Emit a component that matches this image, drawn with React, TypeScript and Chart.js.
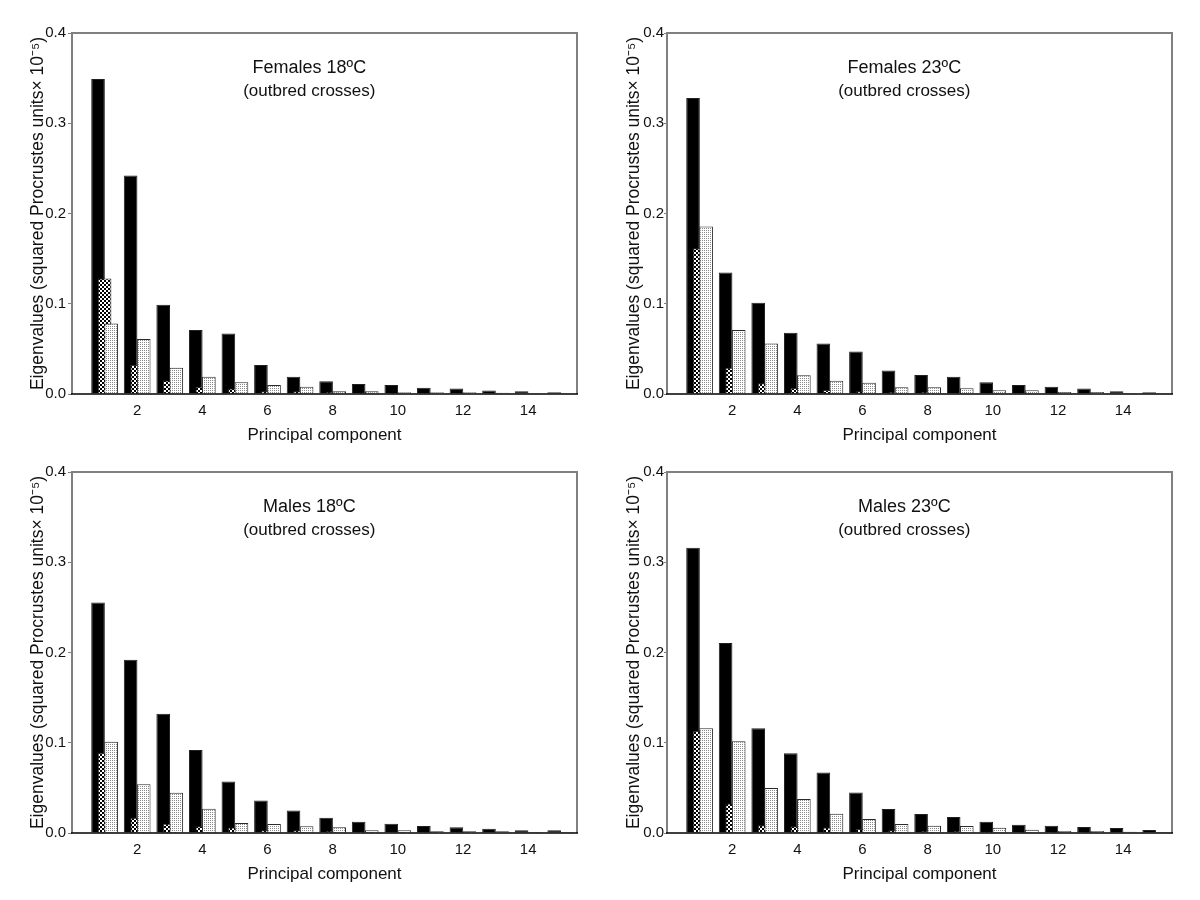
import React, { useEffect, useRef } from 'react';
import { Chart, registerables } from 'chart.js';

Chart.register(...registerables);

// ---------- data ----------
const components = [1, 2, 3, 4, 5, 6, 7, 8, 9, 10, 11, 12, 13, 14, 15];
const xTickValues = [2, 4, 6, 8, 10, 12, 14];
const xTickLabels = ['2', '4', '6', '8', '10', '12', '14'];
const yTickValues = [0, 0.1, 0.2, 0.3, 0.4];
const yTickLabels = ['0.0', '0.1', '0.2', '0.3', '0.4'];

const panelTitles = ['Females 18ºC', 'Females 23ºC', 'Males 18ºC', 'Males 23ºC'];
const panelSubtitle = '(outbred crosses)';
const xAxisTitle = 'Principal component';
const yAxisTitle = 'Eigenvalues (squared Procrustes units× 10⁻⁵)';

// Females 18ºC
const f18Solid = [0.349, 0.242, 0.099, 0.071, 0.067, 0.032, 0.019, 0.014, 0.011, 0.010, 0.007, 0.006, 0.004, 0.003, 0.002];
const f18Checked = [0.128, 0.032, 0.015, 0.008, 0.006, 0.003, 0.003, 0.002, 0.0015, 0.001, 0.001, 0.001, 0.001, 0.0005, 0.0005];
const f18Dotted = [0.078, 0.061, 0.029, 0.019, 0.013, 0.010, 0.008, 0.003, 0.003, 0.002, 0.002, 0.002, 0.0015, 0.001, 0.001];

// Females 23ºC
const f23Solid = [0.328, 0.1345, 0.101, 0.068, 0.056, 0.047, 0.026, 0.021, 0.019, 0.013, 0.010, 0.008, 0.006, 0.003, 0.002];
const f23Checked = [0.1615, 0.029, 0.012, 0.0067, 0.0044, 0.003, 0.002, 0.002, 0.0015, 0.001, 0.001, 0.001, 0.0005, 0.0005, 0.0005];
const f23Dotted = [0.1855, 0.071, 0.056, 0.0207, 0.0148, 0.0125, 0.0074, 0.0074, 0.0063, 0.0041, 0.0041, 0.0022, 0.0022, 0.0011, 0.0011];

// Males 18ºC
const m18Solid = [0.2555, 0.192, 0.132, 0.092, 0.057, 0.036, 0.025, 0.017, 0.0125, 0.0103, 0.0077, 0.0063, 0.0048, 0.003, 0.003];
const m18Checked = [0.089, 0.017, 0.0103, 0.0074, 0.0062, 0.003, 0.003, 0.002, 0.0015, 0.001, 0.001, 0.001, 0.0005, 0.0005, 0.0005];
const m18Dotted = [0.101, 0.054, 0.0446, 0.0269, 0.011, 0.010, 0.0074, 0.0063, 0.003, 0.003, 0.0019, 0.0019, 0.0019, 0.0011, 0.0011];

// Males 23ºC
const m23Solid = [0.316, 0.2105, 0.116, 0.0885, 0.067, 0.045, 0.0265, 0.021, 0.0177, 0.0125, 0.0092, 0.0081, 0.0066, 0.0055, 0.0033];
const m23Checked = [0.113, 0.0328, 0.0085, 0.0074, 0.006, 0.0044, 0.003, 0.002, 0.002, 0.0015, 0.001, 0.001, 0.001, 0.0005, 0.0005];
const m23Dotted = [0.116, 0.1018, 0.0498, 0.0376, 0.0213, 0.0155, 0.010, 0.008, 0.0077, 0.0059, 0.0037, 0.0022, 0.0022, 0.0015, 0.001];

const panelSeries = [
  [f18Solid, f18Checked, f18Dotted],
  [f23Solid, f23Checked, f23Dotted],
  [m18Solid, m18Checked, m18Dotted],
  [m23Solid, m23Checked, m23Dotted],
];

// ---------- style ----------
const FONT = '"Liberation Sans", Arial, Helvetica, sans-serif';
const TEXT = '#111111';

function makeChecker(): CanvasPattern | string {
  const c = document.createElement('canvas');
  c.width = 4;
  c.height = 4;
  const g = c.getContext('2d');
  if (!g) return '#777';
  g.fillStyle = '#ffffff';
  g.fillRect(0, 0, 4, 4);
  g.fillStyle = '#000000';
  g.fillRect(0, 0, 2, 2);
  g.fillRect(2, 2, 2, 2);
  return g.createPattern(c, 'repeat') || '#777';
}

function makeDots(): CanvasPattern | string {
  const c = document.createElement('canvas');
  c.width = 2;
  c.height = 2;
  const g = c.getContext('2d');
  if (!g) return '#ddd';
  g.fillStyle = '#ffffff';
  g.fillRect(0, 0, 2, 2);
  g.fillStyle = '#8a8a8a';
  g.fillRect(0, 0, 1, 1);
  return g.createPattern(c, 'repeat') || '#ddd';
}

const drawOrderPlugin = {
  id: 'drawOrder',
  beforeDatasetsDraw(chart: any) {
    const ctx = chart.ctx;
    const a = chart.chartArea;
    ctx.save();
    ctx.beginPath();
    ctx.rect(a.left, a.top - 2, a.right - a.left, a.bottom - a.top + 4);
    ctx.clip();
    for (let i = 0; i < chart.data.datasets.length; i++) {
      chart.getDatasetMeta(i).controller.draw();
    }
    ctx.restore();
    return false;
  },
};

const framePlugin = {
  id: 'frame',
  afterDraw(chart: any) {
    const ctx = chart.ctx;
    const a = chart.chartArea;
    ctx.save();
    ctx.strokeStyle = '#808080';
    ctx.lineWidth = 2;
    ctx.beginPath();
    ctx.moveTo(a.left, a.bottom);
    ctx.lineTo(a.left, a.top);
    ctx.lineTo(a.right, a.top);
    ctx.lineTo(a.right, a.bottom);
    ctx.stroke();
    ctx.strokeStyle = '#000000';
    ctx.lineWidth = 1.5;
    ctx.beginPath();
    ctx.moveTo(a.left - 1, a.bottom);
    ctx.lineTo(a.right + 1, a.bottom);
    ctx.stroke();
    ctx.restore();
  },
};

function makeTitlePlugin(title: string) {
  return {
    id: 'panelTitle',
    afterDraw(chart: any) {
      const ctx = chart.ctx;
      const a = chart.chartArea;
      const cx = a.left + (a.right - a.left) * 0.47;
      ctx.save();
      ctx.fillStyle = TEXT;
      ctx.textAlign = 'center';
      ctx.textBaseline = 'middle';
      ctx.font = `18px ${FONT}`;
      ctx.fillText(title, cx, a.top + 35);
      ctx.font = `17px ${FONT}`;
      ctx.fillText(panelSubtitle, cx, a.top + 58);
      ctx.restore();
    },
  };
}

type PanelProps = { index: number; row: number; col: number };

function Panel({ index, row, col }: PanelProps) {
  const ref = useRef<HTMLCanvasElement | null>(null);

  useEffect(() => {
    const canvas = ref.current;
    if (!canvas) return;
    const [solid, checked, dotted] = panelSeries[index];
    const checker = makeChecker();
    const dots = makeDots();
    const yWidth = col === 0 ? 72 : 67;
    const padRight = col === 0 ? 23 : 28;
    const padTop = row === 0 ? 33 : 22;
    const padBottom = row === 0 ? 0 : 11;
    const yTickPad = col === 0 ? 2 : 0;
    const yTickLen = col === 0 ? 4 : 3;
    const yTitlePad = col === 0 ? 28 : 24;

    const toPoints = (vals: number[]) => components.map((x, i) => ({ x, y: vals[i] }));

    const chart = new Chart(canvas, {
      type: 'bar',
      data: {
        datasets: [
          { label: 'solid', data: toPoints(solid) as any, backgroundColor: '#000000', borderColor: '#202020', borderWidth: 1 },
          { label: 'checked', data: toPoints(checked) as any, backgroundColor: checker as any, borderColor: '#303030', borderWidth: 1 },
          { label: 'dotted', data: toPoints(dotted) as any, backgroundColor: dots as any, borderColor: '#2a2a2a', borderWidth: 1 },
        ],
      },
      options: {
        responsive: false,
        animation: false,
        events: [],
        layout: { padding: { left: 0, top: padTop, right: padRight, bottom: padBottom } },
        datasets: {
          bar: { barPercentage: 2.08, categoryPercentage: 0.603, grouped: true },
        } as any,
        plugins: {
          legend: { display: false },
          tooltip: { enabled: false },
        },
        scales: {
          x: {
            type: 'linear',
            min: 0,
            max: 15.5,
            offset: false,
            afterBuildTicks: (s: any) => {
              s.ticks = xTickValues.map((v) => ({ value: v }));
            },
            afterFit: (s: any) => {
              s.height = 56;
            },
            grid: { display: false, drawTicks: false },
            border: { display: false },
            ticks: {
              autoSkip: false,
              maxRotation: 0,
              padding: 8,
              color: TEXT,
              font: { family: FONT, size: 15 },
              callback: (_v: any, i: number) => xTickLabels[i],
            },
            title: {
              display: true,
              text: xAxisTitle,
              color: TEXT,
              font: { family: FONT, size: 17 },
              padding: { top: 0, bottom: 4 },
            },
          },
          y: {
            type: 'linear',
            min: 0,
            max: 0.4,
            afterBuildTicks: (s: any) => {
              s.ticks = yTickValues.map((v) => ({ value: v }));
            },
            afterFit: (s: any) => {
              s.width = yWidth;
            },
            grid: { drawOnChartArea: false, drawTicks: true, tickLength: yTickLen, color: '#808080' },
            border: { display: false },
            ticks: {
              padding: yTickPad,
              color: TEXT,
              font: { family: FONT, size: 15 },
              callback: (_v: any, i: number) => yTickLabels[i],
            },
            title: {
              display: true,
              text: yAxisTitle,
              color: TEXT,
              font: { family: FONT, size: 17.5 },
              padding: { top: yTitlePad, bottom: 0 },
            },
          },
        },
      },
      plugins: [drawOrderPlugin, framePlugin, makeTitlePlugin(panelTitles[index])],
    });

    return () => chart.destroy();
  }, [index, row, col]);

  return (
    <canvas
      ref={ref}
      width={600}
      height={450}
      style={{ position: 'absolute', left: col * 600, top: row * 450, width: 600, height: 450 }}
    />
  );
}

export default function App() {
  return (
    <div style={{ position: 'absolute', left: 0, top: 0, width: 1200, height: 900, background: '#ffffff' }}>
      <Panel index={0} row={0} col={0} />
      <Panel index={1} row={0} col={1} />
      <Panel index={2} row={1} col={0} />
      <Panel index={3} row={1} col={1} />
    </div>
  );
}
